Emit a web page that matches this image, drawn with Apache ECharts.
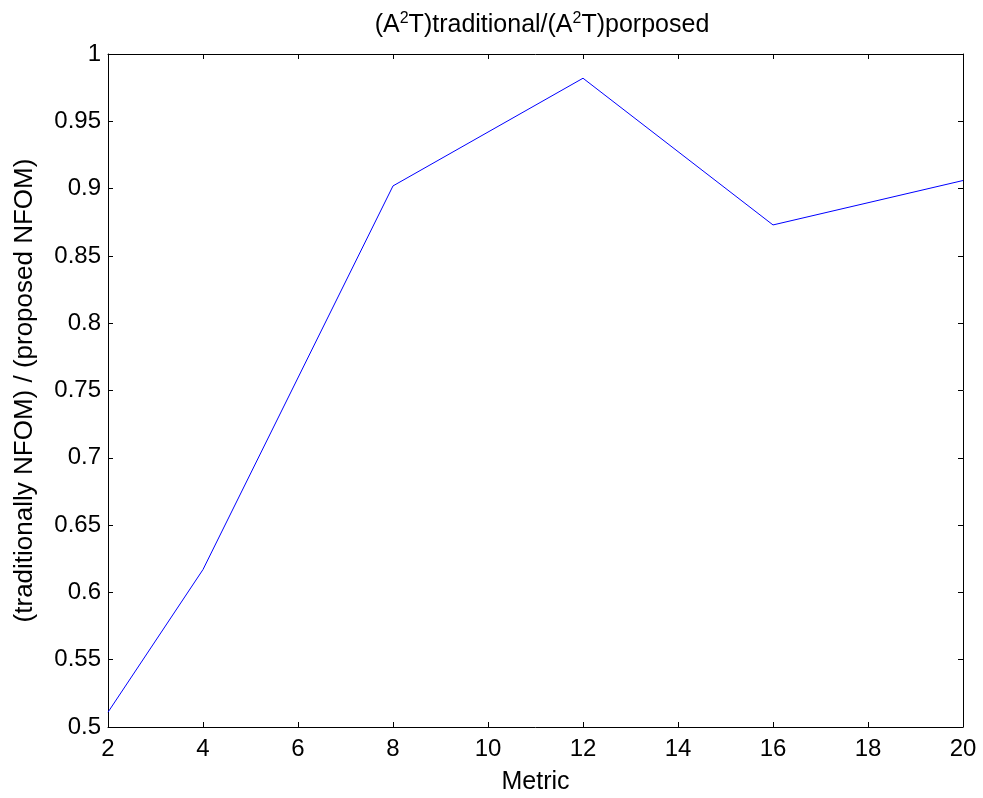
<!DOCTYPE html>
<html>
<head>
<meta charset="utf-8">
<script src="https://cdn.jsdelivr.net/npm/echarts@6/dist/echarts.min.js"></script>
<style>
html,body{margin:0;padding:0;background:#fff;}
#c{width:983px;height:798px;}
</style>
</head>
<body>
<div id="c"></div>
<script>
const metric = [2, 4, 8, 12, 16, 20];
const ratio = [0.511, 0.617, 0.902, 0.982, 0.873, 0.906];
const xTicks = [2, 4, 6, 8, 10, 12, 14, 16, 18, 20];
const yTicks = ['0.5','0.55','0.6','0.65','0.7','0.75','0.8','0.85','0.9','0.95','1'];

const FONT = '"Liberation Sans", Arial, sans-serif';
const chart = echarts.init(document.getElementById('c'));

const axisCommon = {
  axisLine: {show: true, lineStyle: {color: '#000', width: 1}},
  axisTick: {show: true, inside: true, length: 5, lineStyle: {color: '#000', width: 1}},
  splitLine: {show: false}
};

chart.setOption({
  animation: false,
  backgroundColor: '#fff',
  title: {
    text: '{n|(A}{s|2}{n|T)traditional/(A}{s|2}{n|T)porposed}',
    left: 537, top: 6, textAlign: 'center',
    textStyle: {
      fontWeight: 'normal',
      rich: {
        n: {fontFamily: FONT, fontSize: 25, fontWeight: 'normal', color: '#000', lineHeight: 27, verticalAlign: 'bottom'},
        s: {fontFamily: FONT, fontSize: 16, fontWeight: 'normal', color: '#000', lineHeight: 25, verticalAlign: 'top'}
      }
    }
  },
  grid: {left: 108, right: 20, top: 54, bottom: 71, containLabel: false, outerBoundsMode: 'none'},
  xAxis: [
    Object.assign({
      type: 'value', min: xTicks[0], max: xTicks[xTicks.length - 1], interval: 2,
      position: 'bottom',
      name: 'Metric', nameLocation: 'middle', nameGap: 43,
      nameTextStyle: {fontFamily: FONT, fontSize: 25, color: '#000'},
      axisLabel: {fontFamily: FONT, fontSize: 24, color: '#000', margin: 10}
    }, axisCommon),
    Object.assign({
      type: 'value', min: xTicks[0], max: xTicks[xTicks.length - 1], interval: 2,
      position: 'top', axisLabel: {show: false}
    }, axisCommon)
  ],
  yAxis: [
    Object.assign({
      type: 'value', min: 0.5, max: 1, interval: 0.05,
      position: 'left',
      name: '(traditionally NFOM) / (proposed NFOM)', nameLocation: 'middle', nameGap: 70,
      nameRotate: 90,
      nameTextStyle: {fontFamily: FONT, fontSize: 26, color: '#000'},
      axisLabel: {fontFamily: FONT, fontSize: 24, color: '#000', margin: 7,
        formatter: function (v) { const s = String(Math.round(v * 100) / 100); return yTicks.indexOf(s) >= 0 ? s : ''; }}
    }, axisCommon),
    Object.assign({
      type: 'value', min: 0.5, max: 1, interval: 0.05,
      position: 'right', axisLabel: {show: false}
    }, axisCommon)
  ],
  series: [{
    type: 'line',
    data: metric.map((m, i) => [m, ratio[i]]),
    symbol: 'none',
    lineStyle: {color: '#0000ff', width: 1},
    clip: false
  }]
});
</script>
</body>
</html>
